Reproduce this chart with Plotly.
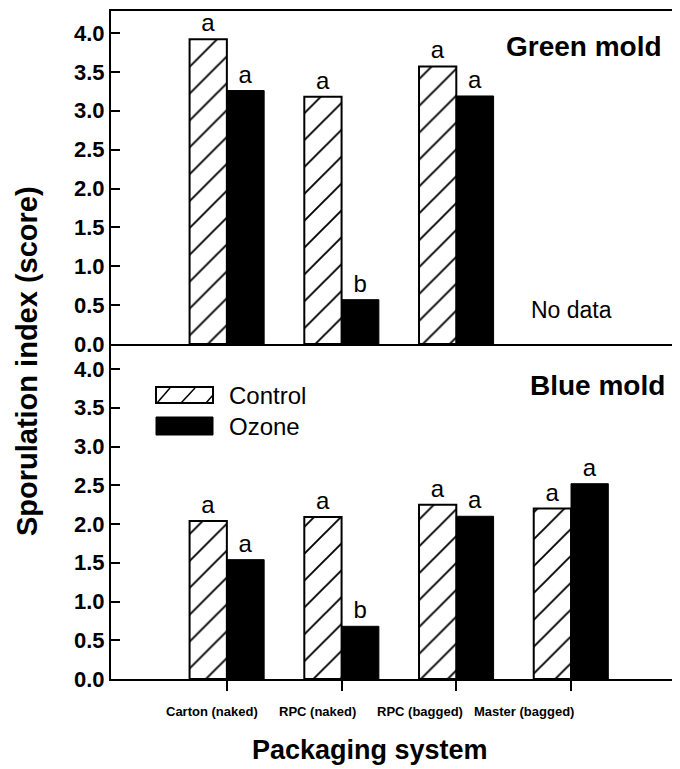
import plotly.graph_objects as go
from plotly.subplots import make_subplots

categories = ["Carton (naked)", "RPC (naked)", "RPC (bagged)", "Master (bagged)"]
green_control = [3.92, 3.18, 3.57, None]
green_ozone = [3.26, 0.57, 3.19, None]
green_control_letters = ["a", "a", "a", ""]
green_ozone_letters = ["a", "b", "a", ""]
blue_control = [2.04, 2.09, 2.25, 2.20]
blue_ozone = [1.54, 0.68, 2.10, 2.52]
blue_control_letters = ["a", "a", "a", "a"]
blue_ozone_letters = ["a", "b", "a", "a"]
y_ticks = [0.0, 0.5, 1.0, 1.5, 2.0, 2.5, 3.0, 3.5, 4.0]

FONT = "Liberation Sans, Arial, sans-serif"
xpos = list(range(len(categories)))

fig = make_subplots(rows=2, cols=1, shared_xaxes=True, vertical_spacing=0)

hatch = dict(shape="/", bgcolor="white", fgcolor="black", fgopacity=1,
             size=19, solidity=0.1)


def add_panel(ctrl, ctrl_txt, ozo, ozo_txt, row):
    fig.add_trace(go.Bar(
        x=xpos, y=ctrl, name="Control", text=ctrl_txt, textposition="outside",
        marker=dict(color="white", pattern=hatch, line=dict(color="black", width=2)),
        outsidetextfont=dict(size=24, color="black", family=FONT),
        offsetgroup="c", showlegend=False, cliponaxis=False), row=row, col=1)
    fig.add_trace(go.Bar(
        x=xpos, y=ozo, name="Ozone", text=ozo_txt, textposition="outside",
        marker=dict(color="black", line=dict(color="black", width=1)),
        outsidetextfont=dict(size=24, color="black", family=FONT),
        offsetgroup="o", showlegend=False, cliponaxis=False), row=row, col=1)


add_panel(green_control, green_control_letters, green_ozone, green_ozone_letters, 1)
add_panel(blue_control, blue_control_letters, blue_ozone, blue_ozone_letters, 2)

yaxis_common = dict(
    tickvals=y_ticks, ticktext=[f"{v:.1f}" for v in y_ticks],
    ticks="inside", ticklen=9, tickwidth=2, tickcolor="black",
    showline=True, linecolor="black", linewidth=2, showgrid=False, zeroline=False,
    tickfont=dict(size=22, color="black", family=FONT, weight="bold"),
)

# page body has an 8px margin, so the figure is 8px smaller than the window
fig.update_layout(
    width=672, height=761,
    margin=dict(l=103, r=0, t=3, b=90),
    paper_bgcolor="white", plot_bgcolor="white",
    barmode="group", bargap=0.35, bargroupgap=0,
    showlegend=False,
    font=dict(family=FONT, color="black"),
    xaxis=dict(range=[-1.01, 3.95], showline=True, mirror=True, linecolor="black",
               linewidth=2, showgrid=False, zeroline=False, ticks="",
               showticklabels=False),
    xaxis2=dict(range=[-1.01, 3.95], showline=True, linecolor="black", linewidth=2,
                showgrid=False, zeroline=False, tickvals=xpos, ticks="outside",
                ticklen=10, tickwidth=2, tickcolor="black", showticklabels=False),
    yaxis=dict(domain=[0.5015, 1.0], range=[0, 4.283], **yaxis_common),
    yaxis2=dict(domain=[0.0, 0.5015], range=[0, 4.323], **yaxis_common),
)

annotations = []
# Category labels under the lower panel
label_shift = [-15, -24, -36, -47]
for i, cat in enumerate(categories):
    annotations.append(dict(
        x=xpos[i], y=-0.0494, xref="x2", yref="paper", text=cat, showarrow=False,
        xshift=label_shift[i], xanchor="center", yanchor="middle",
        font=dict(size=13, color="black", family=FONT, weight="bold")))

annotations += [
    dict(x=0.455, y=-0.106, xref="paper", yref="paper", text="Packaging system",
         showarrow=False, xanchor="center", yanchor="middle",
         font=dict(size=27, color="black", family=FONT, weight="bold")),
    dict(x=-0.1476, y=0.476, xref="paper", yref="paper",
         text="Sporulation index (score)", showarrow=False, textangle=-90,
         xanchor="center", yanchor="middle",
         font=dict(size=29, color="black", family=FONT, weight="bold")),
    dict(x=0.972, y=0.9476, xref="paper", yref="paper", text="Green mold",
         showarrow=False, xanchor="right", yanchor="middle",
         font=dict(size=28, color="black", family=FONT, weight="bold")),
    dict(x=0.977, y=0.440, xref="paper", yref="paper", text="Blue mold",
         showarrow=False, xanchor="right", yanchor="middle",
         font=dict(size=28, color="black", family=FONT, weight="bold")),
    dict(x=xpos[3], y=0.44, xref="x", yref="y", text="No data", showarrow=False,
         xanchor="center", yanchor="middle",
         font=dict(size=23, color="black", family=FONT)),
    dict(x=0.2039, y=0.4251, xref="paper", yref="paper", text="Control",
         showarrow=False, xanchor="left", yanchor="middle",
         font=dict(size=24, color="black", family=FONT)),
    dict(x=0.2039, y=0.3787, xref="paper", yref="paper", text="Ozone",
         showarrow=False, xanchor="left", yanchor="middle",
         font=dict(size=24, color="black", family=FONT)),
]
fig.update_layout(annotations=annotations)


def px_x(p):
    return (p - 111) / 569


def px_y(p):
    return (679 - p) / 668


shapes = [
    dict(type="rect", xref="paper", yref="paper", x0=px_x(156), x1=px_x(213),
         y0=px_y(403), y1=px_y(387), line=dict(color="black", width=2),
         fillcolor="white"),
    dict(type="rect", xref="paper", yref="paper", x0=px_x(156), x1=px_x(213),
         y0=px_y(435), y1=px_y(417), line=dict(color="black", width=1),
         fillcolor="black"),
]
for (a, b, c, d) in [(157, 403, 170, 388), (181, 403, 195, 388), (206, 403, 213, 395)]:
    shapes.append(dict(type="line", xref="paper", yref="paper", x0=px_x(a), y0=px_y(b),
                       x1=px_x(c), y1=px_y(d), line=dict(color="black", width=1.5)))
fig.update_layout(shapes=shapes)

fig.write_html("out.html")
